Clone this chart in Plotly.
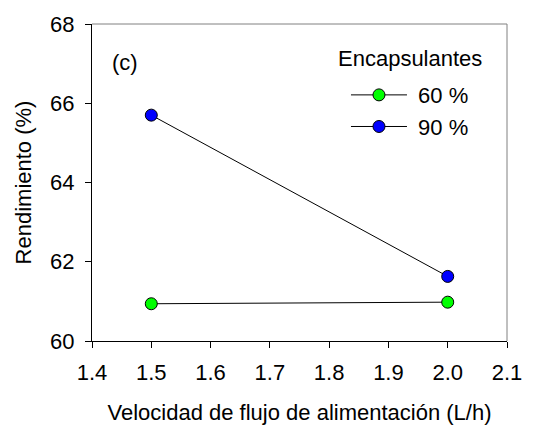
import plotly.graph_objects as go

flow = [1.5, 2.0]
series_names = ["\u00a060 %", "\u00a090 %"]
yield_60 = [60.94, 60.98]
yield_90 = [65.70, 61.63]
colors = ["#00ff00", "#0000ff"]
x_ticks = [1.4, 1.5, 1.6, 1.7, 1.8, 1.9, 2.0, 2.1]
y_ticks = [60, 62, 64, 66, 68]

FONT = "Liberation Sans, Arial, sans-serif"
FS = 22

fig = go.Figure()
for name, ys, c in zip(series_names, [yield_60, yield_90], colors):
    fig.add_trace(go.Scatter(
        x=flow, y=ys, name=name, mode="lines+markers",
        line=dict(color="black", width=1),
        marker=dict(size=12, color=c, line=dict(color="black", width=1)),
    ))

fig.add_annotation(text="(c)", x=0.08, y=0.88, xref="paper", yref="paper",
                   showarrow=False, xanchor="center", yanchor="middle",
                   font=dict(size=FS, color="black", family=FONT))
fig.add_annotation(text="Encapsulantes", x=(410 - 92) / 415, y=1 - (54 - 19) / 322,
                   xref="paper", yref="paper", showarrow=False,
                   xanchor="center", yanchor="middle",
                   font=dict(size=FS, color="black", family=FONT))

# grey top/right frame
fig.add_shape(type="line", xref="paper", yref="paper", x0=0, x1=1, y0=1, y1=1,
              line=dict(color="#808080", width=1))
fig.add_shape(type="line", xref="paper", yref="paper", x0=1, x1=1, y0=0, y1=1,
              line=dict(color="#808080", width=1))

fig.update_layout(
    width=556, height=433,
    margin=dict(l=92, r=49, t=19, b=92),
    paper_bgcolor="white", plot_bgcolor="white",
    font=dict(family=FONT, size=FS, color="black"),
    showlegend=True,
    legend=dict(
        x=0.612, y=0.842, xanchor="left", yanchor="top",
        bgcolor="rgba(0,0,0,0)",
        font=dict(size=FS), itemwidth=56, tracegroupgap=0,
    ),
    xaxis=dict(
        range=[1.4, 2.1], tickvals=x_ticks, ticktext=[f"{v:.1f}" for v in x_ticks],
        showgrid=False, zeroline=False, showline=True, linecolor="black", linewidth=1,
        ticks="outside", ticklen=6, tickcolor="black", ticklabelstandoff=6,
        title=dict(text="Velocidad de flujo de alimentación (L/h)", standoff=20, font=dict(size=FS)),
    ),
    yaxis=dict(
        range=[60, 68], tickvals=y_ticks,
        showgrid=False, zeroline=False, showline=True, linecolor="black", linewidth=1,
        ticks="outside", ticklen=6, tickcolor="black", ticklabelstandoff=6,
        title=dict(text="Rendimiento (%)", standoff=12, font=dict(size=FS)),
    ),
)

fig.write_html("out.html")
